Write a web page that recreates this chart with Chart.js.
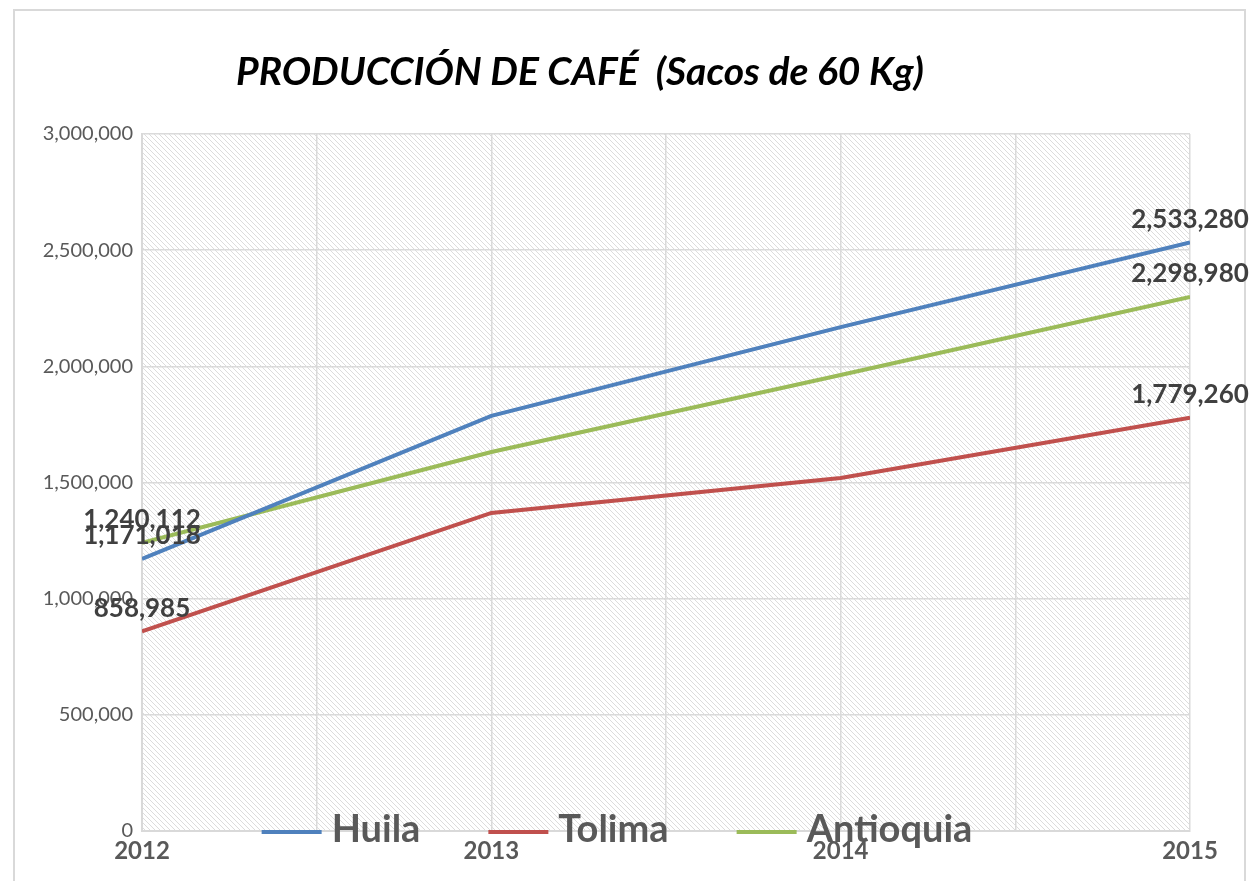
<!DOCTYPE html>
<html>
<head>
<meta charset="utf-8">
<script src="https://cdn.jsdelivr.net/npm/chart.js@4.4.1/dist/chart.umd.min.js"></script>
<style>
    html, body { margin: 0; padding: 0; background: #ffffff; }
    #wrap { width: 1260px; height: 881px; overflow: hidden; }
</style>
</head>
<body>
<div id="wrap"><canvas id="chart" width="1260" height="881"></canvas></div>
<script>
// Datos
const years = ["2012", "2013", "2014", "2015"];
const huila = [1171018, 1787000, 2169000, 2533280];
const tolima = [858985, 1369000, 1519000, 1779260];
const antioquia = [1240112, 1631000, 1963000, 2298980];
const seriesNames = ["Huila", "Tolima", "Antioquia"];
const seriesColors = ["#4f81bd", "#c0504d", "#9bbb59"];
const yTicks = [0, 500000, 1000000, 1500000, 2000000, 2500000, 3000000];
const titleText = "PRODUCCIÓN DE CAFÉ  (Sacos de 60 Kg)";

const FONT = "Lato, 'Open Sans', sans-serif";

// Patrón rayado para el fondo del área de trazado
function makeHatch() {
    const p = 5;
    const c = document.createElement("canvas");
    c.width = p; c.height = p;
    const g = c.getContext("2d");
    g.fillStyle = "#ffffff";
    g.fillRect(0, 0, p, p);
    g.strokeStyle = "#dcdcdc";
    g.lineWidth = 1;
    g.beginPath();
    g.moveTo(-1, -1); g.lineTo(p + 1, p + 1);
    g.moveTo(-1, p - 1); g.lineTo(1, p + 1);
    g.moveTo(p - 1, -1); g.lineTo(p + 1, 1);
    g.stroke();
    return g.createPattern(c, "repeat");
}

function toPoints(arr) {
    return arr.map((v, i) => ({ x: i, y: v }));
}

const fmt = n => n.toLocaleString("en-US");

// Marco, fondo y título
const framePlugin = {
    id: "frame",
    beforeDraw(chart) {
        const ctx = chart.ctx;
        const a = chart.chartArea;
        ctx.save();
        ctx.fillStyle = "#ffffff";
        ctx.fillRect(0, 0, chart.width, chart.height);
        ctx.strokeStyle = "#d9d9d9";
        ctx.lineWidth = 2;
        ctx.strokeRect(14, 10, 1231, 920);
        ctx.fillStyle = makeHatch();
        ctx.fillRect(a.left, a.top, a.right - a.left, a.bottom - a.top);
        ctx.fillStyle = "#000000";
        ctx.font = "italic bold 39px " + FONT;
        ctx.textAlign = "center";
        ctx.textBaseline = "middle";
        ctx.fillText(titleText, 580, 72);
        ctx.restore();
    }
};

// Etiquetas de datos en el primer y último punto
const labelPlugin = {
    id: "endLabels",
    afterDatasetsDraw(chart) {
        const ctx = chart.ctx;
        ctx.save();
        ctx.font = "bold 26px " + FONT;
        ctx.fillStyle = "#404040";
        ctx.textAlign = "center";
        ctx.textBaseline = "middle";
        chart.data.datasets.forEach((ds, di) => {
            const meta = chart.getDatasetMeta(di);
            [0, ds.data.length - 1].forEach(i => {
                const pt = meta.data[i];
                ctx.fillText(fmt(ds.data[i].y), pt.x, pt.y - 23);
            });
        });
        ctx.restore();
    }
};

// Leyenda dibujada sobre el eje inferior
const legendPlugin = {
    id: "bottomLegend",
    afterDraw(chart) {
        const ctx = chart.ctx;
        ctx.save();
        ctx.font = "bold 38px " + FONT;
        const lineW = 60, gap = 10, sep = 68;
        const widths = chart.data.datasets.map(d => lineW + gap + ctx.measureText(d.label).width);
        const total = widths.reduce((s, w) => s + w, 0) + sep * (widths.length - 1);
        let x = 617 - total / 2;
        const y = 832;
        chart.data.datasets.forEach((d, i) => {
            ctx.strokeStyle = d.borderColor;
            ctx.lineWidth = 4;
            ctx.beginPath();
            ctx.moveTo(x, y);
            ctx.lineTo(x + lineW, y);
            ctx.stroke();
            ctx.fillStyle = "#595959";
            ctx.textAlign = "left";
            ctx.textBaseline = "middle";
            ctx.fillText(d.label, x + lineW + gap, y - 2);
            x += widths[i] + sep;
        });
        ctx.restore();
    }
};

const seriesData = [huila, tolima, antioquia];

new Chart(document.getElementById("chart"), {
    type: "line",
    data: {
        datasets: seriesData.map((arr, i) => ({
            label: seriesNames[i],
            data: toPoints(arr),
            borderColor: seriesColors[i],
            backgroundColor: seriesColors[i],
            borderWidth: 4,
            pointRadius: 0,
            tension: 0
        }))
    },
    options: {
        responsive: false,
        animation: false,
        layout: { padding: { left: 14, right: 70, top: 134, bottom: 0 } },
        plugins: {
            legend: { display: false },
            title: { display: false },
            tooltip: { enabled: false }
        },
        scales: {
            x: {
                type: "linear",
                min: 0,
                max: years.length - 1,
                afterFit: s => { s.height = 50; },
                afterBuildTicks: s => {
                    const t = [];
                    for (let v = 0; v <= years.length - 1; v += 0.5) t.push({ value: v });
                    s.ticks = t;
                },
                ticks: {
                    autoSkip: false,
                    maxRotation: 0,
                    padding: 6,
                    color: "#595959",
                    font: { family: FONT, size: 24, weight: "bold" },
                    callback: v => Number.isInteger(v) ? years[v] : ""
                },
                grid: { color: "#dadada", lineWidth: 1.5, drawTicks: false },
                border: { color: "#d9d9d9", width: 2 }
            },
            y: {
                min: 0,
                max: 3000000,
                afterFit: s => { s.width = 128; },
                afterBuildTicks: s => { s.ticks = yTicks.map(v => ({ value: v })); },
                ticks: {
                    padding: 9,
                    color: "#595959",
                    font: { family: FONT, size: 20 },
                    callback: v => fmt(v)
                },
                grid: { color: "#dadada", lineWidth: 1.5, drawTicks: false },
                border: { color: "#d9d9d9", width: 2 }
            }
        }
    },
    plugins: [framePlugin, labelPlugin, legendPlugin]
});
</script>
</body>
</html>
